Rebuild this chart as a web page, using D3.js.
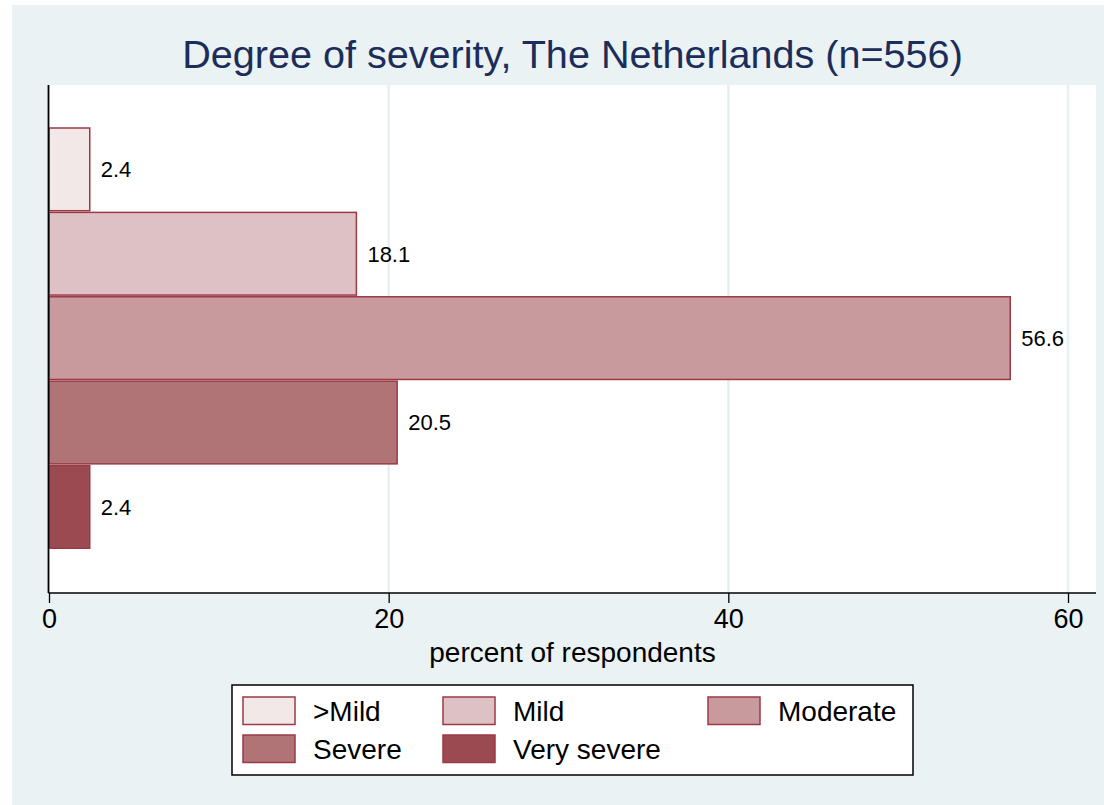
<!DOCTYPE html>
<html>
<head>
<meta charset="utf-8">
<script src="https://cdn.jsdelivr.net/npm/d3@7"></script>
<style>
  html, body { margin: 0; padding: 0; background: #ffffff; }
  text { font-family: "Liberation Sans", Arial, Helvetica, sans-serif; }
</style>
</head>
<body>
<svg id="chart"></svg>
<script>
// severity categories, top to bottom
const categories = [">Mild", "Mild", "Moderate", "Severe", "Very severe"];
// percent of respondents
const values = [2.4, 18.1, 56.6, 20.5, 2.4];
const valueLabels = ["2.4", "18.1", "56.6", "20.5", "2.4"];
const fills = ["#f3e8e8", "#dec1c4", "#c89a9d", "#b07376", "#9c4a51"];
const xTicks = [0, 20, 40, 60];

const w = 1104;
const h = 805;
const plot = { left: 49, right: 1096, top: 85, bottom: 593 };
const outline = "#9b3a45";

const svg = d3.select("#chart").attr("width", w).attr("height", h);

// graph region background
svg.append("rect")
  .attr("x", 12).attr("y", 5)
  .attr("width", w - 12).attr("height", h - 5)
  .attr("fill", "#eaf2f3");

// plot region
svg.append("rect")
  .attr("x", plot.left).attr("y", plot.top)
  .attr("width", plot.right - plot.left).attr("height", plot.bottom - plot.top)
  .attr("fill", "#ffffff");

const x = d3.scaleLinear().domain([0, 60]).range([plot.left, 1068]);

const y = d3.scaleBand()
  .domain(categories)
  .range([plot.top, plot.bottom])
  .paddingInner(0.02)
  .paddingOuter(0.52)
  .align(0.49);

// gridlines
svg.append("g")
  .selectAll("line")
  .data(xTicks.filter(d => d > 0))
  .enter()
  .append("line")
  .attr("x1", d => x(d)).attr("x2", d => x(d))
  .attr("y1", plot.top).attr("y2", plot.bottom)
  .attr("stroke", "#e6eff1")
  .attr("stroke-width", 2.5);

// bars
svg.append("g")
  .selectAll("rect")
  .data(values)
  .enter()
  .append("rect")
  .attr("x", x(0))
  .attr("y", (d, i) => y(categories[i]))
  .attr("width", d => x(d) - x(0))
  .attr("height", y.bandwidth())
  .attr("fill", (d, i) => fills[i])
  .attr("stroke", outline)
  .attr("stroke-width", 1.5);

// value labels
svg.append("g")
  .selectAll("text")
  .data(values)
  .enter()
  .append("text")
  .attr("x", d => x(d) + 11)
  .attr("y", (d, i) => y(categories[i]) + y.bandwidth() / 2)
  .attr("dy", "0.36em")
  .attr("font-size", 22)
  .attr("fill", "#000")
  .text((d, i) => valueLabels[i]);

// x axis
const xAxis = svg.append("g")
  .attr("transform", "translate(0," + plot.bottom + ")")
  .call(d3.axisBottom(x).tickValues(xTicks).tickSize(10).tickPadding(6).tickFormat(d3.format("d")));
xAxis.select(".domain").remove();
xAxis.selectAll(".tick line").attr("stroke", "#000").attr("stroke-width", 1.3);
xAxis.selectAll(".tick text")
  .attr("font-size", 27)
  .attr("font-family", "Liberation Sans, Arial, sans-serif")
  .attr("fill", "#000");

svg.append("line")
  .attr("x1", plot.left - 0.5).attr("x2", plot.right)
  .attr("y1", plot.bottom).attr("y2", plot.bottom)
  .attr("stroke", "#000").attr("stroke-width", 1.5);

// y axis line
svg.append("line")
  .attr("x1", plot.left - 0.5).attr("x2", plot.left - 0.5)
  .attr("y1", plot.top).attr("y2", plot.bottom)
  .attr("stroke", "#000").attr("stroke-width", 1.8);

// axis title
svg.append("text")
  .attr("x", (plot.left + plot.right) / 2)
  .attr("y", 662)
  .attr("text-anchor", "middle")
  .attr("font-size", 28)
  .attr("fill", "#000")
  .text("percent of respondents");

// title
svg.append("text")
  .attr("x", (plot.left + plot.right) / 2)
  .attr("y", 68)
  .attr("text-anchor", "middle")
  .attr("font-size", 39.6)
  .attr("fill", "#1c2d5a")
  .text("Degree of severity, The Netherlands (n=556)");

// legend
const legendCols = [243, 443, 708];
const legendRows = [697, 735];
const legend = svg.append("g");
legend.append("rect")
  .attr("x", 232).attr("y", 685)
  .attr("width", 681).attr("height", 90)
  .attr("fill", "#ffffff")
  .attr("stroke", "#000")
  .attr("stroke-width", 1.5);

const items = legend.selectAll("g.item")
  .data(categories)
  .enter()
  .append("g")
  .attr("class", "item")
  .attr("transform", (d, i) => "translate(" + legendCols[i % 3] + "," + legendRows[Math.floor(i / 3)] + ")");

items.append("rect")
  .attr("width", 52).attr("height", 27.5)
  .attr("fill", (d, i) => fills[i])
  .attr("stroke", outline)
  .attr("stroke-width", 1.5);

items.append("text")
  .attr("x", 70)
  .attr("y", 23.5)
  .attr("font-size", 28)
  .attr("fill", "#000")
  .text(d => d);
</script>
</body>
</html>
